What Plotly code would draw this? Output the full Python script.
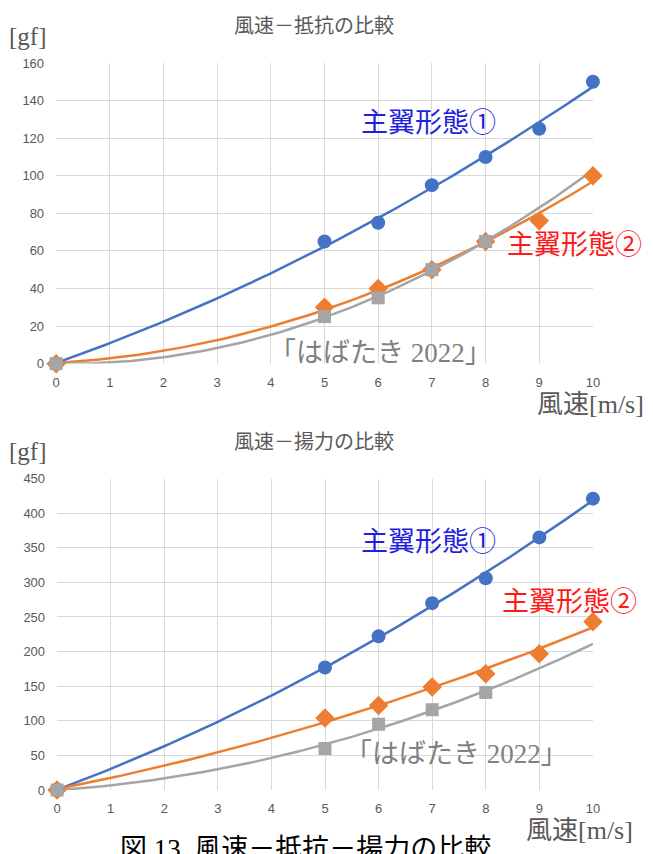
import numpy as np
import plotly.graph_objects as go

W, H = 653, 854

# ---- data ----
speed = [0, 5, 6, 7, 8, 9, 10]
speed_h = [0, 5, 6, 7, 8]          # はばたき2022 measured speeds

drag_1 = [0, 65, 75, 95, 110, 125, 150]
drag_2 = [0, 30, 40, 50, 65, 76, 100]
drag_h = [0, 25, 35, 50, 65]

lift_1 = [0, 177, 222, 270, 306, 365, 421]
lift_2 = [0, 104, 122, 149, 168, 197, 243]
lift_h = [0, 60, 95, 116, 141]

x_ticks = list(range(0, 11))
drag_ticks = list(range(0, 161, 20))
lift_ticks = list(range(0, 451, 50))

BLUE = "#4472C4"
ORANGE = "#ED7D31"
GRAY = "#A5A5A5"
GRID = "#D9D9D9"
TXT = "#595959"
SERIF = "Liberation Serif, Noto Sans CJK JP, serif"
SANS = "Noto Sans CJK JP, Liberation Sans, sans-serif"


def px(x):
    return x / W


def py(y):
    return 1 - y / H


fig = go.Figure()

xfit = np.linspace(0, 10, 101)


def add_series(xs, ys, color, symbol, xaxis, yaxis):
    c = np.polyfit(xs, ys, 2)
    fig.add_trace(go.Scatter(x=xfit, y=np.polyval(c, xfit), mode="lines",
                             line=dict(color=color, width=2.5),
                             xaxis=xaxis, yaxis=yaxis, showlegend=False,
                             hoverinfo="skip"))
    return (xs, ys, color, symbol, xaxis, yaxis)


markers = []
markers.append(add_series(speed, drag_1, BLUE, "circle", "x", "y"))
markers.append(add_series(speed, drag_2, ORANGE, "diamond", "x", "y"))
markers.append(add_series(speed_h, drag_h, GRAY, "square", "x", "y"))
markers.append(add_series(speed, lift_1, BLUE, "circle", "x2", "y2"))
markers.append(add_series(speed, lift_2, ORANGE, "diamond", "x2", "y2"))
markers.append(add_series(speed_h, lift_h, GRAY, "square", "x2", "y2"))

msize = {"circle": 14, "square": 13, "diamond": 15}
for xs, ys, color, symbol, xa, ya in markers:
    fig.add_trace(go.Scatter(x=xs, y=ys, mode="markers", cliponaxis=False,
                             marker=dict(color=color, symbol=symbol, size=msize[symbol],
                                         line=dict(width=0)),
                             xaxis=xa, yaxis=ya, showlegend=False))

axis_common = dict(showgrid=True, gridcolor=GRID, gridwidth=1, zeroline=False,
                   showline=False, ticks="", tickfont=dict(family="Liberation Sans, sans-serif",
                                                           size=13, color=TXT))

fig.update_layout(
    width=W, height=H,
    margin=dict(l=0, r=0, t=0, b=0),
    paper_bgcolor="white", plot_bgcolor="white",
    showlegend=False,
    xaxis=dict(domain=[px(53), px(599)], range=[0, 10], tickvals=x_ticks,
               anchor="y", ticklabelstandoff=9, **axis_common),
    yaxis=dict(domain=[py(363), py(57)], range=[0, 160], tickvals=drag_ticks,
               anchor="x", ticklabelstandoff=11, **axis_common),
    xaxis2=dict(domain=[px(54), px(599)], range=[0, 10], tickvals=x_ticks,
                anchor="y2", ticklabelstandoff=9, **axis_common),
    yaxis2=dict(domain=[py(797), py(480)], range=[0, 450], tickvals=lift_ticks,
                anchor="x2", ticklabelstandoff=11, **axis_common),
)

ann = []


def text(x, y, s, size, color, family, xanchor="left", yanchor="middle"):
    ann.append(dict(x=px(x), y=py(y), xref="paper", yref="paper", text=s,
                    showarrow=False, xanchor=xanchor, yanchor=yanchor,
                    font=dict(size=size, color=color, family=family)))


# titles
text(315, 18, "風速－抵抗の比較", 20, TXT, SANS, xanchor="center")
text(315, 441, "風速－揚力の比較", 20, TXT, SANS, xanchor="center")
# unit labels
text(3, 30, "[gf]", 25, TXT, SERIF)
text(3, 452, "[gf]", 25, TXT, SERIF)
text(653, 405, "風速[m/s]", 26, TXT, SERIF, xanchor="right")
text(642, 838, "風速[m/s]", 26, TXT, SERIF, xanchor="right")
# series labels top
text(361, 118, "主翼形態①", 27, "#1F1FE0", SERIF)
text(510, 242, "主翼形態②", 27, "#FF1A1A", SERIF)
text(268, 352, "「はばたき 2022」", 27, "#808080", SERIF)
# series labels bottom
text(361, 545, "主翼形態①", 27, "#1F1FE0", SERIF)
text(504, 606, "主翼形態②", 27, "#FF1A1A", SERIF)
text(345, 760, "「はばたき 2022」", 27, "#808080", SERIF)
# caption (clipped by page bottom, as in the reference)
text(116, 840, "図 13  風速－抵抗－揚力の比較", 27, "#000000", SERIF, yanchor="top")

fig.update_layout(annotations=ann)

fig.write_html("out.html")
